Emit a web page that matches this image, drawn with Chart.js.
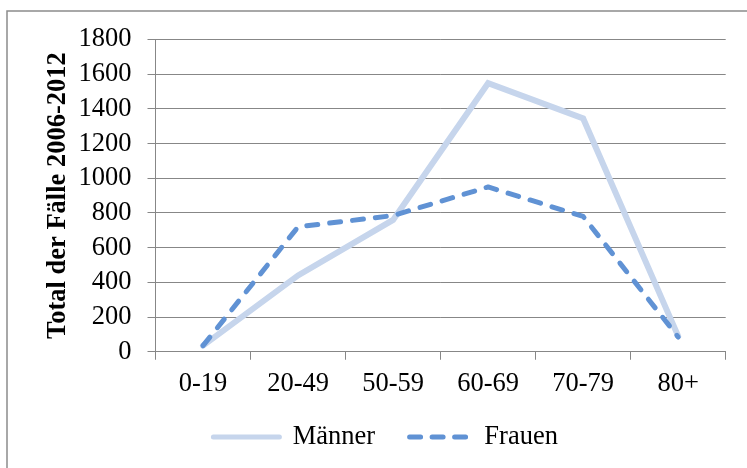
<!DOCTYPE html>
<html>
<head>
<meta charset="utf-8">
<script src="https://cdn.jsdelivr.net/npm/chart.js@4.4.1/dist/chart.umd.min.js"></script>
<style>
  html, body { margin: 0; padding: 0; background: #fff; }
  #wrap { width: 747px; height: 468px; }
</style>
</head>
<body>
<div id="wrap"><canvas id="myChart" width="747" height="468"></canvas></div>
<script>
// Altersgruppen und Fallzahlen
const ageGroups = ['0-19', '20-49', '50-59', '60-69', '70-79', '80+'];
const maenner = [35, 440, 760, 1548, 1345, 90];
const frauen = [35, 720, 785, 950, 780, 85];
const yTitle = 'Total der Fälle 2006-2012';

const serif = "'Liberation Serif', 'Times New Roman', serif";
const gridGray = '#878787';

// grauer Rahmen um das ganze Diagramm
const frame = {
    id: 'frame',
    beforeDraw(chart) {
        const c = chart.ctx;
        c.save();
        c.strokeStyle = '#8c8c8c';
        c.lineWidth = 1.5;
        c.strokeRect(7, 11, 800, 500);
        c.restore();
    }
};

var ctx = document.getElementById('myChart').getContext('2d');
var myChart = new Chart(ctx, {
    type: 'line',
    data: {
        labels: ageGroups,
        datasets: [
            {
                label: 'Männer',
                data: maenner,
                borderColor: '#c6d5ec',
                backgroundColor: '#c6d5ec',
                borderWidth: 6,
                borderCapStyle: 'round',
                borderJoinStyle: 'miter',
                pointRadius: 0,
                tension: 0,
                order: 1
            },
            {
                label: 'Frauen',
                data: frauen,
                borderColor: '#6092d4',
                backgroundColor: '#6092d4',
                borderWidth: 5,
                borderDash: [11, 12],
                borderCapStyle: 'round',
                borderJoinStyle: 'round',
                pointRadius: 0,
                tension: 0,
                order: 0
            }
        ]
    },
    options: {
        responsive: false,
        animation: false,
        events: [],
        layout: {
            padding: { left: 45.6, right: 21.3, top: 39.5, bottom: 7.75 }
        },
        scales: {
            x: {
                offset: true,
                grid: {
                    offset: true,
                    drawOnChartArea: false,
                    drawTicks: true,
                    tickLength: 8,
                    color: gridGray,
                    lineWidth: 1
                },
                border: { color: gridGray, width: 1 },
                ticks: {
                    color: '#000',
                    padding: 8,
                    maxRotation: 0,
                    font: { family: serif, size: 26.5 }
                },
                afterFit: (scale) => { scale.height = 42; }
            },
            y: {
                min: 0,
                max: 1800,
                grid: {
                    color: gridGray,
                    lineWidth: 1,
                    tickLength: 8
                },
                border: { color: gridGray, width: 1 },
                ticks: {
                    stepSize: 200,
                    autoSkip: false,
                    color: '#000',
                    padding: 16,
                    font: { family: serif, size: 26.5 },
                    callback: (v) => String(v)
                },
                title: {
                    display: true,
                    text: yTitle,
                    color: '#000',
                    padding: { top: -1, bottom: 0 },
                    font: { family: serif, size: 26.5, weight: 'bold', lineHeight: 1 }
                },
                afterFit: (scale) => { scale.width = 109.9; }
            }
        },
        plugins: {
            title: { display: false },
            tooltip: { enabled: false },
            legend: {
                display: true,
                position: 'bottom',
                labels: {
                    usePointStyle: true,
                    pointStyleWidth: 66,
                    padding: 30,
                    color: '#000',
                    font: { family: serif, size: 26.5 },
                    generateLabels: (chart) => chart.data.datasets.map((ds, i) => ({
                        text: ds.label,
                        datasetIndex: i,
                        pointStyle: 'line',
                        strokeStyle: ds.borderColor,
                        fillStyle: ds.borderColor,
                        lineWidth: 5,
                        lineCap: 'round',
                        lineDash: ds.borderDash ? [11, 11.5] : [],
                        lineDashOffset: ds.borderDash ? 17.95 : 0,
                        fontColor: '#000',
                        hidden: false
                    }))
                }
            }
        }
    },
    plugins: [frame]
});
</script>
</body>
</html>
